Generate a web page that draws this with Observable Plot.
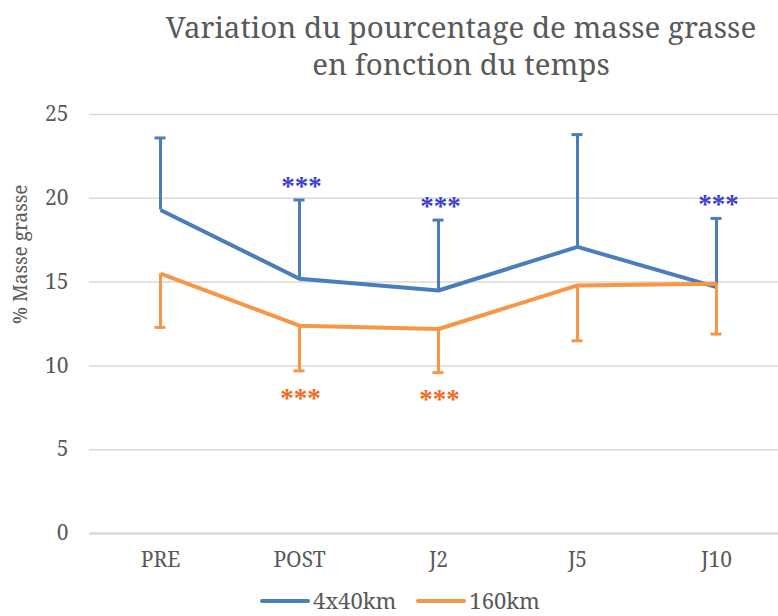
<!DOCTYPE html>
<html>
<head>
<meta charset="utf-8">
<script src="https://cdn.jsdelivr.net/npm/d3@7"></script>
<script src="https://cdn.jsdelivr.net/npm/@observablehq/plot@0.6"></script>
<style>
  html, body { margin: 0; padding: 0; background: #fff; }
  #wrap { position: relative; width: 778px; height: 616px; overflow: hidden; font-family: "Noto Serif", "Liberation Serif", serif; color: #595959; }
  .tline { position: absolute; left: 0; width: 922px; text-align: center; font-size: 29.5px; line-height: 37px; white-space: nowrap; }
  #chart { position: absolute; left: 0; top: 90px; }
  #legend { position: absolute; left: 0; top: 585px; width: 800px; text-align: center; font-size: 22px; line-height: 30px; white-space: nowrap; }
  .item { display: inline-block; margin: 0 10px; }
  .sw { display: inline-block; width: 50px; height: 4px; border-radius: 2px; vertical-align: middle; margin-right: 3px; position: relative; top: -2px; }
</style>
</head>
<body>
<div id="wrap">
  <div class="tline" style="top:8px">Variation du pourcentage de masse grasse</div>
  <div class="tline" style="top:45px">en fonction du temps</div>
  <div id="chart"></div>
  <div id="legend"></div>
</div>
<script>
const categories = ["PRE", "POST", "J2", "J5", "J10"];
const seriesNames = ["4x40km", "160km"];
const mean40 = [19.3, 15.2, 14.5, 17.1, 14.7];
const upper40 = [23.6, 19.9, 18.7, 23.8, 18.8];
const mean160 = [15.5, 12.4, 12.2, 14.8, 14.9];
const lower160 = [12.3, 9.7, 9.6, 11.5, 11.9];
const stars40 = ["", "***", "***", "", "***"];
const stars160 = ["", "***", "***", "", ""];
const yTicks = [0, 5, 10, 15, 20, 25];

const blue = "#4a7ebb";
const orange = "#f79646";

const d40 = categories.map((c, i) => ({cat: c, mean: mean40[i], end: upper40[i], star: stars40[i]}));
const d160 = categories.map((c, i) => ({cat: c, mean: mean160[i], end: lower160[i], star: stars160[i]}));

const chart = Plot.plot({
  width: 778,
  height: 490,
  marginTop: 24,
  marginBottom: 47,
  marginLeft: 89,
  marginRight: 0,
  style: {fontFamily: "'Noto Serif', 'Liberation Serif', serif", color: "#595959", background: "white", overflow: "visible"},
  x: {type: "point", domain: categories, range: [90.5, 785.5], padding: 0.5, label: null},
  y: {domain: [0, 25], label: null},
  marks: [
    Plot.gridY(yTicks, {stroke: "#d9d9d9", strokeOpacity: 1, strokeWidth: 1.5}),
    Plot.ruleY([0], {stroke: "#d4d4d4", strokeWidth: 2}),
    Plot.axisY(yTicks, {tickSize: 0, tickPadding: 21, fontSize: 21, label: null}),
    Plot.axisX({tickSize: 0, tickPadding: 19, fontSize: 21, label: null}),
    Plot.text(["% Masse grasse"], {frameAnchor: "left", rotate: -90, dx: -76, lineAnchor: "top", fontSize: 19, fill: "#595959"}),
    // 4x40km
    Plot.ruleX(d40, {x: "cat", y1: "mean", y2: "end", stroke: blue, strokeWidth: 3}),
    Plot.ruleY(d40, {x1: "cat", x2: "cat", y: "end", insetLeft: -5.5, insetRight: -5.5, stroke: blue, strokeWidth: 3}),
    Plot.line(d40, {x: "cat", y: "mean", stroke: blue, strokeWidth: 4, strokeLinejoin: "miter", strokeLinecap: "butt"}),
    Plot.text(d40, {x: "cat", y: "end", text: "star", dy: -14, dx: 2, fill: "#4040cc", fontSize: 27, fontFamily: "Liberation Serif", fontWeight: "bold", lineAnchor: "middle"}),
    // 160km
    Plot.ruleX(d160, {x: "cat", y1: "mean", y2: "end", stroke: orange, strokeWidth: 3}),
    Plot.ruleY(d160, {x1: "cat", x2: "cat", y: "end", insetLeft: -5.5, insetRight: -5.5, stroke: orange, strokeWidth: 3}),
    Plot.line(d160, {x: "cat", y: "mean", stroke: orange, strokeWidth: 4, strokeLinejoin: "miter", strokeLinecap: "butt"}),
    Plot.text(d160, {x: "cat", y: "end", text: "star", dy: 27, dx: 1, fill: "#f26a1b", fontSize: 27, fontFamily: "Liberation Serif", fontWeight: "bold", lineAnchor: "middle"})
  ]
});
document.getElementById("chart").appendChild(chart);

const legend = document.getElementById("legend");
[[seriesNames[0], blue], [seriesNames[1], orange]].forEach(([name, col]) => {
  const it = document.createElement("span");
  it.className = "item";
  const sw = document.createElement("span");
  sw.className = "sw";
  sw.style.background = col;
  it.appendChild(sw);
  it.appendChild(document.createTextNode(name));
  legend.appendChild(it);
});
</script>
</body>
</html>
